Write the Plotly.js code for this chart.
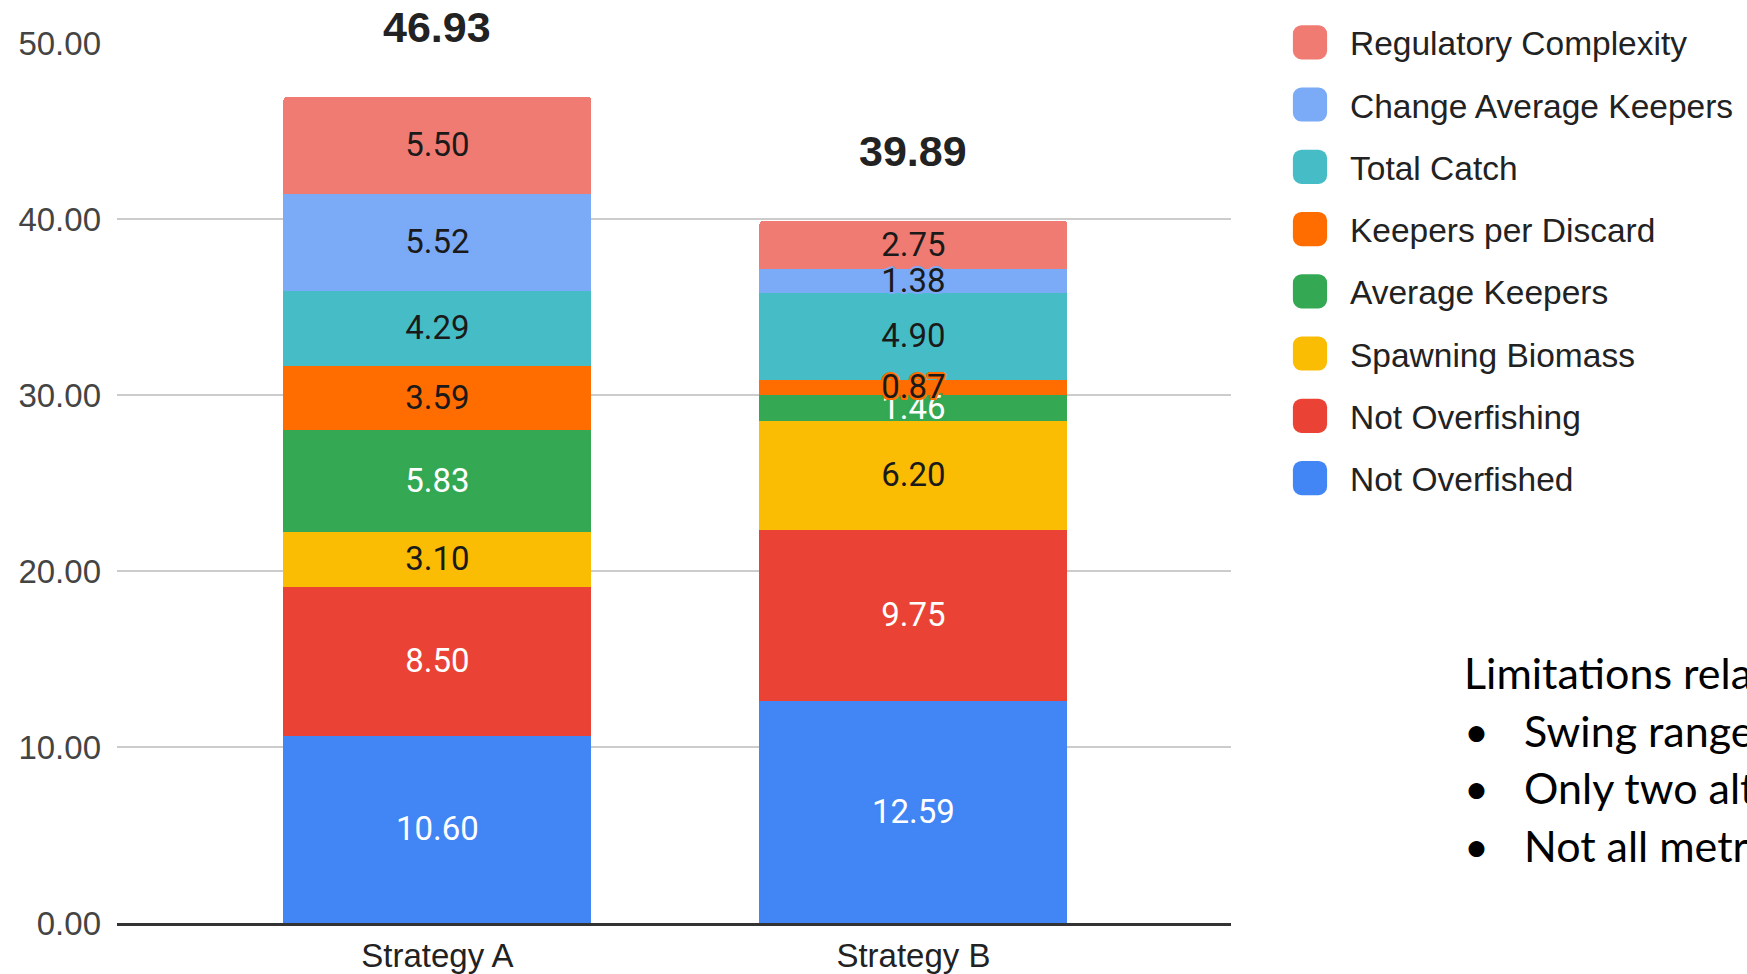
<!DOCTYPE html>
<html>
<head>
<meta charset="utf-8">
<script src="https://cdn.plot.ly/plotly-3.0.1.min.js"></script>
<style>
  html, body { margin: 0; padding: 0; background: #fff; overflow: hidden; }
  #chart { width: 1747px; height: 974px; }
  .legend .legendpoints path { transform: translate(34px, 0px) scale(2.85); }
  .scatterlayer .textpoint text { transform: translateY(2.5px); }
</style>
</head>
<body>
<div id="chart"></div>
<script>
// ---------- data ----------
const categories = ['Strategy A', 'Strategy B'];
const seriesNames = ['Not Overfished', 'Not Overfishing', 'Spawning Biomass', 'Average Keepers',
                     'Keepers per Discard', 'Total Catch', 'Change Average Keepers', 'Regulatory Complexity'];
const notOverfished        = [10.60, 12.59];
const notOverfishing       = [8.50, 9.75];
const spawningBiomass      = [3.10, 6.20];
const averageKeepers       = [5.83, 1.46];
const keepersPerDiscard    = [3.59, 0.87];
const totalCatch           = [4.29, 4.90];
const changeAverageKeepers = [5.52, 1.38];
const regulatoryComplexity = [5.50, 2.75];
const totals = [46.93, 39.89];
const yTickValues = [0, 10, 20, 30, 40, 50];
const slideHeading = 'Limitations related to';
const slideLines = ['Swing ranges', 'Only two alternatives', 'Not all metrics'];

// ---------- style ----------
const seriesValues = [notOverfished, notOverfishing, spawningBiomass, averageKeepers,
                      keepersPerDiscard, totalCatch, changeAverageKeepers, regulatoryComplexity];
const colors = ['#4285F4', '#EA4335', '#FBBC04', '#34A853', '#FF6D01', '#46BDC6', '#7BAAF7', '#F07B72'];
const textColors = ['#ffffff', '#ffffff', '#1a1a1a', '#ffffff', '#1a1a1a', '#1a1a1a', '#1a1a1a', '#1a1a1a'];
const LABEL_FONT = 'Roboto, Arial, sans-serif';
const AXIS_FONT = '"Liberation Sans", Arial, sans-serif';

const W = 1747, H = 974;
const L = 117, R = 1231, T = 43, B = 923;
const PW = R - L, PH = B - T;
const px = v => (v - L) / PW;
const py = v => (B - v) / PH;

const haloOf = c => [
  `2px 0 0 ${c}`, `-2px 0 0 ${c}`, `0 2px 0 ${c}`, `0 -2px 0 ${c}`,
  `1.5px 1.5px 0 ${c}`, `-1.5px 1.5px 0 ${c}`, `1.5px -1.5px 0 ${c}`, `-1.5px -1.5px 0 ${c}`,
  `0 0 3px ${c}`
].join(', ');

// stacked bars
const barTraces = seriesNames.map((name, i) => ({
  type: 'bar',
  name: name,
  x: categories,
  y: seriesValues[i],
  width: 0.647,
  marker: { color: colors[i], line: { width: 0 } },
  textposition: 'none',
  legendgroup: 'g' + i,
  legendrank: 100 - i,
  hoverinfo: 'x+y+name'
}));

// value labels drawn above all bars (midpoint of each stacked segment)
const labelTraces = seriesNames.map((name, i) => {
  const mids = categories.map((c, j) => {
    let base = 0;
    for (let k = 0; k < i; k++) base += seriesValues[k][j];
    return base + seriesValues[i][j] / 2;
  });
  return {
    type: 'scatter',
    mode: 'text',
    x: categories,
    y: mids,
    text: seriesValues[i].map(v => v.toFixed(2)),
    textposition: 'middle center',
    textfont: { family: LABEL_FONT, size: 33, color: textColors[i], shadow: haloOf(colors[i]) },
    cliponaxis: false,
    showlegend: false,
    hoverinfo: 'skip'
  };
});

const annotations = categories.map((c, i) => ({
  x: c, y: totals[i], xref: 'x', yref: 'y',
  text: totals[i].toFixed(2), showarrow: false,
  yanchor: 'middle', yshift: 70,
  font: { family: AXIS_FONT, size: 43, color: '#222', weight: 700 }
}));

const slideFont = { family: 'Lato, "Open Sans", sans-serif', size: 43, color: '#000' };
annotations.push({
  xref: 'paper', yref: 'paper', x: px(1462), y: py(673), xanchor: 'left', yanchor: 'middle',
  text: slideHeading, showarrow: false, font: slideFont
});
slideLines.forEach((t, k) => {
  const cy = 730 + 57.5 * k;
  annotations.push({
    xref: 'paper', yref: 'paper', x: px(1462), y: py(cy), xanchor: 'left', yanchor: 'middle',
    text: '•', showarrow: false, font: slideFont
  });
  annotations.push({
    xref: 'paper', yref: 'paper', x: px(1522), y: py(cy), xanchor: 'left', yanchor: 'middle',
    text: t, showarrow: false, font: slideFont
  });
});

const layout = {
  width: W, height: H,
  margin: { l: L, r: W - R, t: T, b: H - B, pad: 0, autoexpand: false },
  paper_bgcolor: '#ffffff', plot_bgcolor: '#ffffff',
  barmode: 'stack',
  barcornerradius: 4,
  font: { family: AXIS_FONT, color: '#444' },
  xaxis: {
    type: 'category',
    range: [-0.673, 1.667],
    showgrid: false, zeroline: false,
    showline: true, linecolor: '#333', linewidth: 3, layer: 'above traces',
    ticks: '', ticklabelstandoff: 1,
    tickfont: { family: AXIS_FONT, size: 33, color: '#222' },
    fixedrange: true, automargin: false
  },
  yaxis: {
    range: [0, 50],
    tickvals: yTickValues,
    tickformat: '.2f',
    showgrid: true, gridcolor: '#cccccc', gridwidth: 2,
    zeroline: false, showline: false, ticks: '',
    ticklabelstandoff: 15,
    tickfont: { family: AXIS_FONT, size: 33, color: '#444' },
    fixedrange: true, automargin: false
  },
  showlegend: true,
  legend: {
    x: px(1276), y: py(14), xanchor: 'left', yanchor: 'top',
    traceorder: 'grouped',
    tracegroupgap: 15.7,
    itemwidth: 64,
    maxheight: 900,
    font: { family: AXIS_FONT, size: 33.5, color: '#222' },
    bgcolor: 'rgba(0,0,0,0)', borderwidth: 0,
    itemclick: false, itemdoubleclick: false
  },
  annotations: annotations
};

Plotly.newPlot('chart', barTraces.concat(labelTraces), layout, { displayModeBar: false, responsive: false });
</script>
</body>
</html>
